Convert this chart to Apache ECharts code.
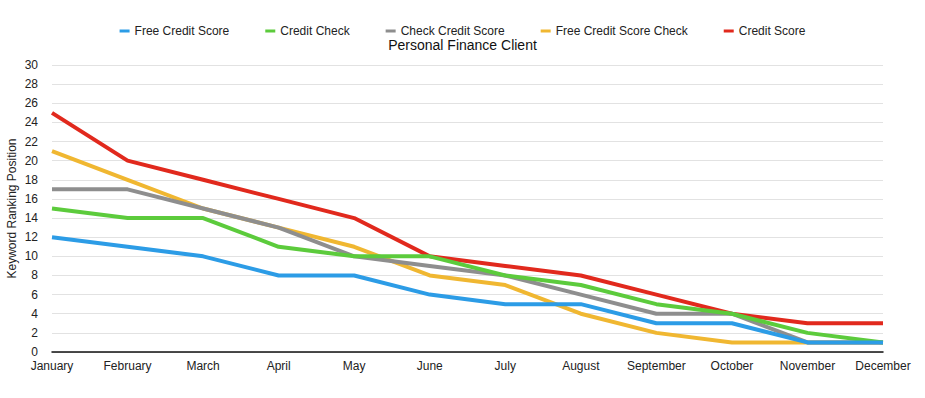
<!DOCTYPE html>
<html>
<head>
<meta charset="utf-8">
<script src="https://cdn.jsdelivr.net/npm/echarts@6/dist/echarts.min.js"></script>
<style>
  html, body { margin: 0; padding: 0; background: #fff; }
  #chart { width: 925px; height: 398px; }
</style>
</head>
<body>
<div id="chart"></div>
<script>
const months = ["January", "February", "March", "April", "May", "June", "July", "August", "September", "October", "November", "December"];

const freeCreditScore = [12, 11, 10, 8, 8, 6, 5, 5, 3, 3, 1, 1];
const creditCheck = [15, 14, 14, 11, 10, 10, 8, 7, 5, 4, 2, 1];
const checkCreditScore = [17, 17, 15, 13, 10, 9, 8, 6, 4, 4, 1, 1];
const freeCreditScoreCheck = [21, 18, 15, 13, 11, 8, 7, 4, 2, 1, 1, 1];
const creditScore = [25, 20, 18, 16, 14, 10, 9, 8, 6, 4, 3, 3];

const font = "Liberation Sans, Arial, sans-serif";

function line(name, data, color, z) {
  return {
    name: name,
    type: "line",
    data: data,
    symbol: "none",
    z: z,
    lineStyle: { width: 4, color: color },
    itemStyle: { color: color },
  };
}

const chart = echarts.init(document.getElementById("chart"), null, { renderer: "svg" });
chart.setOption({
  animation: false,
  textStyle: { fontFamily: font },
  title: {
    text: "Personal Finance Client",
    left: "center",
    top: 33,
    textStyle: { fontSize: 14, fontWeight: "normal", color: "#111", fontFamily: font },
  },
  legend: {
    top: 20,
    left: "center",
    icon: "rect",
    itemWidth: 10,
    itemHeight: 3,
    itemGap: 36,
    textStyle: { fontSize: 12, color: "#222", fontFamily: font },
  },
  grid: { left: 52, right: 42, top: 65, bottom: 46, outerBoundsMode: "none" },
  xAxis: {
    type: "category",
    data: months,
    boundaryGap: false,
    axisLine: { lineStyle: { color: "#111", width: 1.5 } },
    axisTick: { show: false },
    axisLabel: { fontSize: 12, color: "#222", margin: 8, interval: 0, fontFamily: font },
  },
  yAxis: {
    type: "value",
    min: 0,
    max: 30,
    interval: 2,
    name: "Keyword Ranking Position",
    nameLocation: "middle",
    nameGap: 34,
    nameMoveOverlap: false,
    nameTextStyle: { fontSize: 12, color: "#222", fontFamily: font },
    axisLine: { show: false },
    axisTick: { show: false },
    axisLabel: { fontSize: 12, color: "#222", margin: 14, fontFamily: font },
    splitLine: { lineStyle: { color: "#e2e2e2", width: 1 } },
  },
  series: [
    line("Free Credit Score", freeCreditScore, "#2c9ce6", 6),
    line("Credit Check", creditCheck, "#5ccb3c", 5),
    line("Check Credit Score", checkCreditScore, "#8e8e8e", 4),
    line("Free Credit Score Check", freeCreditScoreCheck, "#f0b731", 3),
    line("Credit Score", creditScore, "#e1291d", 2),
  ],
});
</script>
</body>
</html>
